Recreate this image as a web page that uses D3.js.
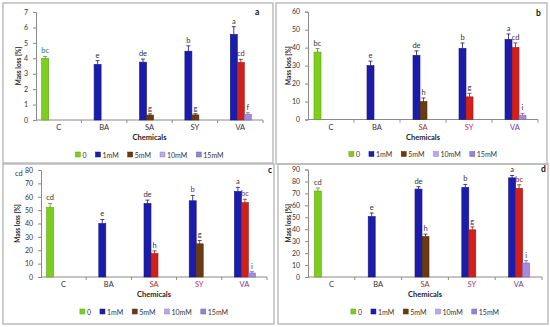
<!DOCTYPE html>
<html>
<head>
<meta charset="utf-8">
<script src="https://cdn.jsdelivr.net/npm/d3@7"></script>
<style>
  body { margin: 0; background: #fff; }
  text { font-family: Lato, "Open Sans", sans-serif; }
</style>
</head>
<body>
<script>
// ---- data ----
const chemicals = ["C", "BA", "SA", "SY", "VA"];
const concentrations = ["0", "1mM", "5mM", "10mM", "15mM"];
const panelNames = ["a", "b", "c", "d"];
const yMaxima = [7, 60, 80, 90];
const yTickSteps = [1, 10, 10, 10];

// [chemical, concentration, mean mass loss, error, letter]
const massLossA = [
  ["C", "0", 4.0, 0.12, "bc"],
  ["BA", "1mM", 3.6, 0.25, "e"],
  ["SA", "1mM", 3.75, 0.2, "de"],
  ["SA", "5mM", 0.32, 0.08, "g"],
  ["SY", "1mM", 4.46, 0.35, "b"],
  ["SY", "5mM", 0.33, 0.08, "g"],
  ["VA", "1mM", 5.55, 0.5, "a"],
  ["VA", "5mM", 3.73, 0.2, "cd"],
  ["VA", "10mM", 0.37, 0.1, "f"]
];
const massLossB = [
  ["C", "0", 37.5, 2, "bc"],
  ["BA", "1mM", 30, 2.5, "e"],
  ["SA", "1mM", 35.7, 2.5, "de"],
  ["SA", "5mM", 10, 2, "h"],
  ["SY", "1mM", 39.6, 3, "b"],
  ["SY", "5mM", 12.6, 2, "g"],
  ["VA", "1mM", 44.6, 3, "a"],
  ["VA", "5mM", 40.1, 2.5, "cd"],
  ["VA", "10mM", 2.4, 1, "i"]
];
const massLossC = [
  ["C", "0", 52, 3, "cd"],
  ["BA", "1mM", 40, 3, "e"],
  ["SA", "1mM", 55, 2.5, "de"],
  ["SA", "5mM", 17.5, 2, "h"],
  ["SY", "1mM", 57, 4, "b"],
  ["SY", "5mM", 24.8, 2.5, "g"],
  ["VA", "1mM", 64, 3, "a"],
  ["VA", "5mM", 55.6, 2.5, "bc"],
  ["VA", "10mM", 3, 1, "i"]
];
const massLossD = [
  ["C", "0", 72, 2.5, "cd"],
  ["BA", "1mM", 50.6, 3, "e"],
  ["SA", "1mM", 73.6, 2, "de"],
  ["SA", "5mM", 33.9, 2, "h"],
  ["SY", "1mM", 75, 2.5, "b"],
  ["SY", "5mM", 39.5, 2.5, "g"],
  ["VA", "1mM", 83, 2, "a"],
  ["VA", "5mM", 74.2, 3, "bc"],
  ["VA", "10mM", 11.7, 2, "i"]
];
const panelData = [massLossA, massLossB, massLossC, massLossD];

// ---- styles / layout ----
const concColors = {"0": "#7ccf1c", "1mM": "#1c1caa", "5mM": "#6a3b12", "10mM": "#b9a9ea", "15mM": "#8f86d8"};
const barRed = "#d0201a";
const barPurple = "#a48be0";
const redFiveMM = {a: ["VA"], b: ["SY", "VA"], c: ["SA", "VA"], d: ["SY", "VA"]};
const letterColors = {"a-C": "#2b7a5e", "a-VA-5mM": "#7a2020", "c-SY-1mM": "#5a2a7a", "c-VA-5mM": "#7a2a3a", "d-VA-5mM": "#8a1a2a"};
const chemLabelColors = {SA: "#a0302a", SY: "#b0306a", VA: "#7a3a8a"};

const layouts = {
  a: {box: [3, 3, 273, 163], x0: 36, x1: 263, yTop: 12, yBase: 120, titleX: 21, tag: [255, 15]},
  b: {box: [276, 3, 547, 164], x0: 308, x1: 538, yTop: 11.7, yBase: 119.5, titleX: 291, tag: [536, 16]},
  c: {box: [3, 164, 274, 324], x0: 41, x1: 267, yTop: 170, yBase: 277, titleX: 20, tag: [268, 173]},
  d: {box: [278, 164, 548, 324], x0: 308, x1: 542, yTop: 169.5, yBase: 277, titleX: 291, tag: [541, 172]}
};

const svg = d3.select("body").append("svg")
  .attr("width", 550).attr("height", 327);

panelNames.forEach((p, pi) => {
  const L = layouts[p];
  const g = svg.append("g");
  const [bx0, by0, bx1, by1] = L.box;

  g.append("rect")
    .attr("x", bx0).attr("y", by0)
    .attr("width", bx1 - bx0).attr("height", by1 - by0)
    .attr("fill", "none").attr("stroke", "#b8b8b8").attr("stroke-width", 1.4);

  const x = d3.scaleBand().domain(chemicals).range([L.x0, L.x1]);
  const bw = x.bandwidth();
  const xs = d3.scaleBand().domain(concentrations).range([bw / 2 - 17, bw / 2 + 18]);
  const y = d3.scaleLinear().domain([0, yMaxima[pi]]).range([L.yBase, L.yTop]);
  const ticks = d3.range(0, yMaxima[pi] + yTickSteps[pi] / 2, yTickSteps[pi]);

  // y axis
  const yAxis = g.append("g")
    .attr("transform", `translate(${L.x0},0)`)
    .call(d3.axisLeft(y).tickValues(ticks).tickSize(3).tickPadding(5).tickFormat(d3.format("d")));
  yAxis.select(".domain").attr("stroke", "#8a8a8a");
  yAxis.selectAll(".tick line").attr("stroke", "#8a8a8a");
  yAxis.selectAll(".tick text").attr("font-size", 7).attr("fill", "#333");

  // x axis
  g.append("line")
    .attr("x1", L.x0).attr("x2", L.x1)
    .attr("y1", L.yBase).attr("y2", L.yBase)
    .attr("stroke", "#8a8a8a");
  g.selectAll(".xtick").data(chemicals.slice(1).concat(["end"])).enter().append("line")
    .attr("x1", d => d === "end" ? L.x1 : x(d))
    .attr("x2", d => d === "end" ? L.x1 : x(d))
    .attr("y1", L.yBase).attr("y2", L.yBase + 3)
    .attr("stroke", "#8a8a8a");
  g.selectAll(".xlab").data(chemicals).enter().append("text")
    .attr("x", d => x(d) + bw / 2)
    .attr("y", L.yBase + 10)
    .attr("text-anchor", "middle")
    .attr("font-size", 7.5)
    .attr("fill", d => p === "a" ? "#333" : (chemLabelColors[d] || "#333"))
    .text(d => d);

  g.append("text")
    .attr("x", (L.x0 + L.x1) / 2).attr("y", L.yBase + 20)
    .attr("text-anchor", "middle")
    .attr("font-size", 7.5).attr("font-weight", "bold").attr("fill", "#222")
    .text("Chemicals");

  g.append("text")
    .attr("transform", `translate(${L.titleX},${(L.yTop + L.yBase) / 2}) rotate(-90)`)
    .attr("text-anchor", "middle")
    .attr("font-size", 6.5).attr("font-weight", "bold").attr("fill", "#222")
    .text("Mass loss [%]");

  g.append("text")
    .attr("x", L.tag[0]).attr("y", L.tag[1])
    .attr("font-size", 8.5).attr("font-weight", "bold").attr("fill", "#111")
    .text(p);

  // bars
  const colorOf = d => {
    if (d[1] === "5mM" && redFiveMM[p].includes(d[0])) return barRed;
    if (d[1] === "10mM") return barPurple;
    return concColors[d[1]];
  };
  const bars = g.selectAll(".bar").data(panelData[pi]).enter().append("g");
  bars.append("rect")
    .attr("x", d => x(d[0]) + xs(d[1]))
    .attr("width", xs.bandwidth())
    .attr("y", d => y(d[2]))
    .attr("height", d => L.yBase - y(d[2]))
    .attr("fill", colorOf)
    .attr("stroke", d => d3.color(colorOf(d)).darker(0.7))
    .attr("stroke-width", 0.6);
  bars.append("line")
    .attr("x1", d => x(d[0]) + xs(d[1]) + xs.bandwidth() / 2)
    .attr("x2", d => x(d[0]) + xs(d[1]) + xs.bandwidth() / 2)
    .attr("y1", d => y(d[2]))
    .attr("y2", d => y(d[2] + d[3]))
    .attr("stroke", d => d3.color(colorOf(d)).darker(1))
    .attr("stroke-width", 0.8);
  bars.append("line")
    .attr("x1", d => x(d[0]) + xs(d[1]) + xs.bandwidth() / 2 - 2)
    .attr("x2", d => x(d[0]) + xs(d[1]) + xs.bandwidth() / 2 + 2)
    .attr("y1", d => y(d[2] + d[3]))
    .attr("y2", d => y(d[2] + d[3]))
    .attr("stroke", d => d3.color(colorOf(d)).darker(1))
    .attr("stroke-width", 0.8);
  bars.append("text")
    .attr("x", d => x(d[0]) + xs(d[1]) + xs.bandwidth() / 2)
    .attr("y", d => y(d[2] + d[3]) - 3)
    .attr("text-anchor", "middle")
    .attr("font-size", 7.5)
    .attr("fill", d => letterColors[`${p}-${d[0]}`] || letterColors[`${p}-${d[0]}-${d[1]}`] || "#333")
    .text(d => d[4]);

  // legend
  const legend = g.append("g");
  let lx = 0;
  concentrations.forEach(c => {
    const item = legend.append("g").attr("transform", `translate(${lx},0)`);
    item.append("rect").attr("x", 0).attr("y", -3).attr("width", 5).attr("height", 5)
      .attr("fill", concColors[c]).attr("stroke", d3.color(concColors[c]).darker(0.7)).attr("stroke-width", 0.5);
    const t = item.append("text").attr("x", 7).attr("y", 2.5)
      .attr("font-size", 7).attr("fill", "#333").text(c);
    lx += 7 + t.node().getComputedTextLength() + 9;
  });
  legend.attr("transform", `translate(${(L.x0 + L.x1) / 2 - (lx - 9) / 2},${L.yBase + 35})`);
});

// stray label in the top-left corner of panel c
svg.append("text")
  .attr("x", 15).attr("y", 176)
  .attr("font-size", 7.5).attr("fill", "#333")
  .text("cd");
</script>
</body>
</html>
